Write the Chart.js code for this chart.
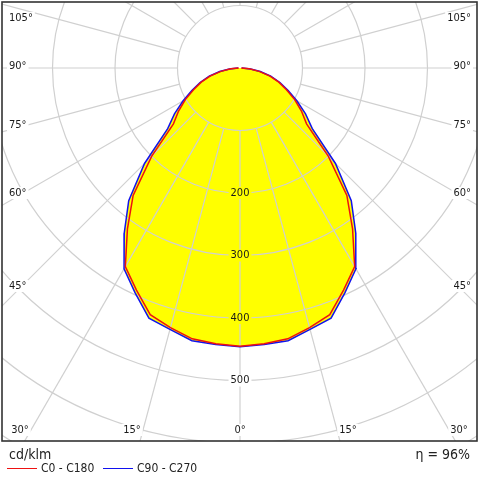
<!DOCTYPE html>
<html>
<head>
<meta charset="utf-8">
<script src="https://cdn.jsdelivr.net/npm/chart.js@4.4.0/dist/chart.umd.min.js"></script>
<style>
html,body{margin:0;padding:0;background:#fff;}
#wrap{position:relative;width:480px;height:480px;font-family:"DejaVu Sans Condensed","DejaVu Sans",sans-serif;color:#222;}
#c{position:absolute;left:0;top:0;}
.txt{position:absolute;white-space:nowrap;}
.sw{position:absolute;width:30px;height:0;border-top:1.5px solid;}
</style>
</head>
<body>
<div id="wrap">
  <canvas id="c" width="480" height="480"></canvas>
  <div class="txt" style="left:9px;top:446px;font-size:14px;">cd/klm</div>
  <div class="sw" style="left:7px;top:468px;border-color:#ee1111;"></div>
  <div class="txt" style="left:41px;top:461px;font-size:12px;">C0 - C180</div>
  <div class="sw" style="left:103px;top:468px;border-color:#1111ee;"></div>
  <div class="txt" style="left:137px;top:461px;font-size:12px;">C90 - C270</div>
  <div class="txt" style="right:10px;top:446px;font-size:14px;">η = 96%</div>
</div>
<script>
// polar intensity curve, cd/klm, gamma angle 0..90 (symmetric both sides)
const ANGLES = [0,5,10,15,20,25,30,35,40,45,50,55,60,65,70,75,80,85,90];
const C0_C180 = [445,443,440,430,420,392,367,314,266,200,139,120,101,82,66,49,31,15,2];
const C90_C270 = [446,444,443,433,426,397,371,323,277,216,151,128,105,85,68,51,33,17,3];
const RINGS = [100,200,300,400,500,600,700];
const RING_LABELS = [200,300,400,500];
const SIDE_LABELS = [105,90,75,60,45];
const BOTTOM_LABELS = [-30,-15,0,15,30];
const SPOKE_STEP = 15;

const FILL = '#ffff00';
const GRID = '#d0d0d0';

// angle 0 points down, left side negative x
function toXY(vals){
  const pts = [];
  for(let i=ANGLES.length-1;i>=0;i--){
    const a = ANGLES[i]*Math.PI/180;
    pts.push({x:-vals[i]*Math.sin(a), y:-vals[i]*Math.cos(a)});
  }
  for(let i=1;i<ANGLES.length;i++){
    const a = ANGLES[i]*Math.PI/180;
    pts.push({x:vals[i]*Math.sin(a), y:-vals[i]*Math.cos(a)});
  }
  return pts;
}

const polarGrid = {
  id:'polarGrid',
  beforeDatasetsDraw(chart){
    const {ctx, chartArea:ca, scales:{x:xs, y:ys}} = chart;
    const cx = xs.getPixelForValue(0), cy = ys.getPixelForValue(0);
    const k = xs.getPixelForValue(100) - cx; // px per 100 cd
    ctx.save();
    ctx.beginPath();
    ctx.rect(ca.left, ca.top, ca.width, ca.height);
    ctx.clip();

    // yellow fill under both curves
    ctx.fillStyle = FILL;
    chart.data.datasets.forEach((ds,i)=>{
      const pts = chart.getDatasetMeta(i).data;
      ctx.beginPath();
      pts.forEach((p,j)=> j ? ctx.lineTo(p.x,p.y) : ctx.moveTo(p.x,p.y));
      ctx.closePath();
      ctx.fill();
    });

    // rings
    ctx.strokeStyle = GRID;
    ctx.lineWidth = 1.2;
    RINGS.forEach(r=>{
      ctx.beginPath();
      ctx.arc(cx, cy, r/100*k, 0, Math.PI*2);
      ctx.stroke();
    });
    // spokes from the first ring outwards
    for(let a=-180; a<180; a+=SPOKE_STEP){
      const t = a*Math.PI/180;
      const dx = Math.sin(t), dy = Math.cos(t);
      ctx.beginPath();
      ctx.moveTo(cx + dx*k, cy + dy*k);
      ctx.lineTo(cx + dx*k*12, cy + dy*k*12);
      ctx.stroke();
    }

    ctx.font = '11px "DejaVu Sans Condensed","DejaVu Sans",sans-serif';
    ctx.textBaseline = 'middle';
    const label = (txt, x, y, align, bg)=>{
      const w = ctx.measureText(txt).width;
      const x0 = align==='left' ? x : align==='right' ? x-w : x-w/2;
      ctx.fillStyle = bg;
      ctx.fillRect(x0-2, y-6, w+4, 12);
      ctx.fillStyle = '#1a1a1a';
      ctx.textAlign = align;
      ctx.fillText(txt, x, y);
    };

    // ring values along the 0 deg spoke
    const i0 = C90_C270[0];
    RING_LABELS.forEach(r=>{
      label(String(r), cx, ys.getPixelForValue(-r), 'center', r < i0 ? FILL : '#fff');
    });

    // angle labels on the sides
    SIDE_LABELS.forEach(a=>{
      const t = a*Math.PI/180;
      const dist = cx - (ca.left + 18);
      let y = cy + dist/Math.sin(t)*Math.cos(t) - 2;
      y = Math.min(Math.max(y, ca.top + 16), ca.bottom - 11);
      label(a + '°', ca.left + 7, y, 'left', '#fff');
      label(a + '°', ca.right - 6, y, 'right', '#fff');
    });
    // angle labels at the bottom, placed where the spoke leaves the frame below
    BOTTOM_LABELS.forEach(a=>{
      const t = a*Math.PI/180;
      const y = ca.bottom - 11;
      let x = cx + (ca.bottom + 30 - cy)*Math.tan(t);
      x = Math.min(Math.max(x, ca.left + 18), ca.right - 18);
      label(Math.abs(a) + '°', x, y, 'center', '#fff');
    });
    ctx.restore();
  },
  afterDraw(chart){
    const {ctx, chartArea:ca} = chart;
    ctx.save();
    ctx.strokeStyle = '#333';
    ctx.lineWidth = 1.6;
    ctx.strokeRect(ca.left, ca.top, ca.width, ca.height);
    ctx.restore();
  }
};

new Chart(document.getElementById('c').getContext('2d'), {
  type:'scatter',
  data:{
    datasets:[
      { label:'C0 - C180', data:toXY(C0_C180), showLine:true, borderColor:'#ee1111', borderWidth:1.5, pointRadius:0, fill:false },
      { label:'C90 - C270', data:toXY(C90_C270), showLine:true, borderColor:'#1111ee', borderWidth:1.5, pointRadius:0, fill:false }
    ]
  },
  options:{
    responsive:false,
    animation:false,
    devicePixelRatio:1,
    layout:{ padding:{ left:2, right:3, top:2, bottom:39 } },
    plugins:{ legend:{ display:false }, tooltip:{ enabled:false } },
    scales:{
      x:{ type:'linear', min:-380.8, max:379.2, display:false },
      y:{ type:'linear', min:-596.8, max:105.6, display:false }
    }
  },
  plugins:[polarGrid]
});
</script>
</body>
</html>
